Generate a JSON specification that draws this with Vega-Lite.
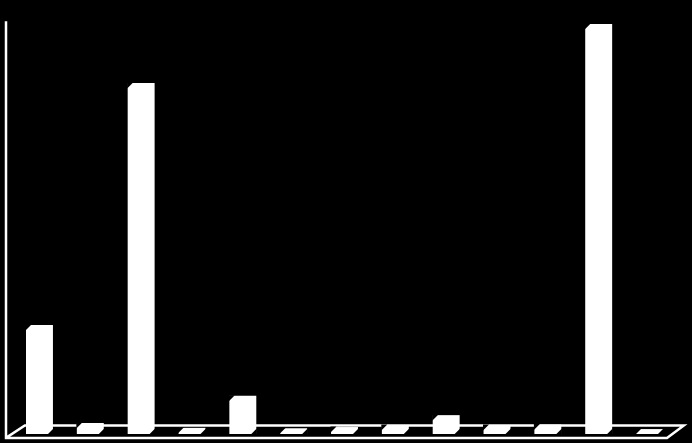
{
  "$schema": "https://vega.github.io/schema/vega-lite/v6.json",
  "width": 692,
  "height": 443,
  "padding": 0,
  "autosize": {"type": "none"},
  "background": "#000000",
  "view": {"stroke": null},
  "datasets": {
    "bars": [
      {"item": "1", "value": 26.6},
      {"item": "2", "value": 2.7},
      {"item": "3", "value": 85.6},
      {"item": "4", "value": 1.5},
      {"item": "5", "value": 9.3},
      {"item": "6", "value": 1.4},
      {"item": "7", "value": 1.7},
      {"item": "8", "value": 2.2},
      {"item": "9", "value": 4.6},
      {"item": "10", "value": 2.2},
      {"item": "11", "value": 2.3},
      {"item": "12", "value": 100},
      {"item": "13", "value": 1.2}
    ]
  },
  "layer": [
    {
      "data": {
        "values": [
          {"pos": 0, "level": 100.7, "step": 1},
          {"pos": 0, "level": -0.95, "step": 2},
          {"pos": 13, "level": -0.95, "step": 3},
          {"pos": 13.33, "level": 2.1, "step": 4},
          {"pos": 0.37, "level": 2.1, "step": 5},
          {"pos": 0, "level": -0.95, "step": 6}
        ]
      },
      "mark": {"type": "line", "color": "#ffffff", "strokeWidth": 2.5, "strokeJoin": "miter"},
      "encoding": {
        "x": {"field": "pos", "type": "quantitative", "axis": null, "scale": {"domain": [0, 13], "range": [6, 667], "nice": false, "zero": false}},
        "y": {"field": "level", "type": "quantitative", "axis": null, "scale": {"domain": [0, 100], "range": [434, 24], "nice": false, "zero": false}},
        "order": {"field": "step", "type": "quantitative"}
      }
    },
    {
      "data": {"name": "bars"},
      "mark": {"type": "bar", "color": "#ffffff"},
      "encoding": {
        "x": {"field": "item", "type": "nominal", "sort": null, "axis": null, "scale": {"type": "band", "range": [26, 663], "paddingInner": 0.47, "paddingOuter": 0}},
        "y": {"field": "value", "type": "quantitative", "axis": null, "stack": null, "scale": {"domain": [0, 100], "range": [434, 24], "nice": false, "zero": false}}
      }
    },
    {
      "data": {"name": "bars"},
      "mark": {"type": "point", "filled": true, "color": "#000000", "opacity": 1, "size": 4, "shape": "M-14 -0.5 L-8 -0.5 L-14 5.5 Z"},
      "encoding": {
        "x": {"field": "item", "type": "nominal", "sort": null, "axis": null, "scale": {"type": "band", "range": [26, 663], "paddingInner": 0.47, "paddingOuter": 0}},
        "y": {"field": "value", "type": "quantitative", "axis": null, "scale": {"domain": [0, 100], "range": [434, 24], "nice": false, "zero": false}}
      }
    },
    {
      "data": {"name": "bars"},
      "mark": {"type": "point", "filled": true, "color": "#000000", "opacity": 1, "size": 4, "shape": "M14 0.5 L8 0.5 L14 -5.5 Z"},
      "encoding": {
        "x": {"field": "item", "type": "nominal", "sort": null, "axis": null, "scale": {"type": "band", "range": [26, 663], "paddingInner": 0.47, "paddingOuter": 0}},
        "y": {"datum": 0, "type": "quantitative", "axis": null, "scale": {"domain": [0, 100], "range": [434, 24], "nice": false, "zero": false}}
      }
    }
  ],
  "resolve": {"scale": {"x": "independent"}}
}
